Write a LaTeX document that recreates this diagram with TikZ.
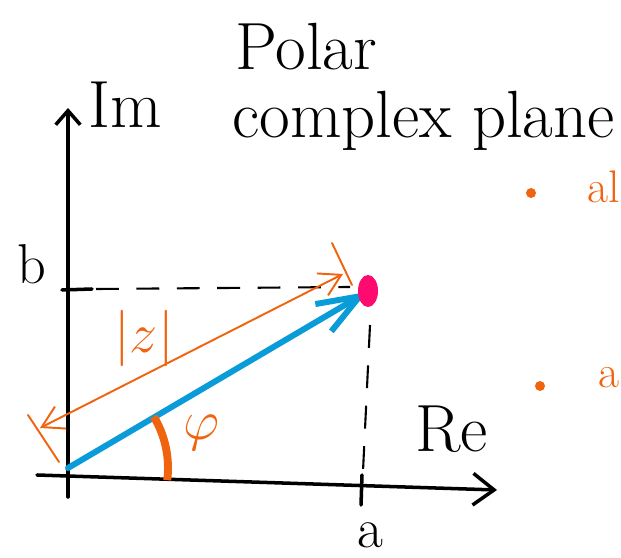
\RequirePackage{fix-cm}
\documentclass[tikz,border=0pt]{standalone}
\usepackage{fontspec}
\usepackage{amsmath}
\usetikzlibrary{arrows.meta,calc}
\usetikzlibrary{positioning}
\usepackage{xcolor}

\definecolor{laranja}{HTML}{F0640F}
\definecolor{azul}{HTML}{0A9CD8}
\definecolor{rosa}{HTML}{FF0A6E}

\tikzset{
  eixo/.style={line width=2pt,line cap=round},
  tracejado/.style={line width=1.2pt,dash pattern=on 13pt off 10pt},
  rotulo/.style={inner sep=0pt,font=\fontsize{38}{42}\selectfont},
  rotuloab/.style={inner sep=0pt,font=\fontsize{32}{36}\selectfont},
  barra/.style={laranja,line width=1.1pt,line cap=round},
}

\begin{document}
\begin{tikzpicture}[x=0.02cm,y=0.02cm]
\useasboundingbox (0,0) rectangle (621,557);
\clip (0,0) rectangle (621,557);

% origem e ponto z
\coordinate (O) at (68,89);
\coordinate (P) at (367,265);

% eixos
\coordinate (xini) at (37,82);
\coordinate (xfim) at (497,67);
\coordinate (yini) at (68,60);
\coordinate (yfim) at (68,449);
\draw[eixo,-{Straight Barb[length=12pt,width=18pt,line width=2pt]}] (xini) -- (xfim);
\draw[eixo,-{Straight Barb[length=8pt,width=14pt,line width=2pt]}] (yini) -- (yfim);

% marcas a e b
\coordinate (tb1) at (62,267);
\coordinate (tb2) at (92,268);
\draw[eixo] (tb1) -- (tb2);
\coordinate (ta1) at (362,82);
\coordinate (ta2) at (361,52);
\draw[eixo] (ta1) -- (ta2);

% linhas tracejadas
\coordinate (db) at (96,268);
\coordinate (dbf) at (350,270);
\draw[tracejado] (db) -- (dbf);
\coordinate (da) at (370,232);
\coordinate (daf) at (363,86);
\draw[tracejado] (da) -- (daf);

% vetor z
\draw[azul,line width=3.4pt,line cap=round,
      -{Straight Barb[length=24pt,width=18pt,line width=3.4pt]}] (O) -- (P);
\fill[rosa] (368,266) ellipse (10 and 16);

% modulo |z|
\coordinate (zs) at (40,129);
\coordinate (ze) at (343,283);
\draw[laranja,line width=1.1pt,
      {Straight Barb[length=12pt,width=14pt]}-{Straight Barb[length=12pt,width=14pt]}] (zs) -- (ze);
\coordinate (zsA) at (28,142);
\coordinate (zsB) at (59,95);
\coordinate (zeA) at (332,314);
\coordinate (zeB) at (352,272);
\draw[barra] (zsA) -- (zsB);
\draw[barra] (zeA) -- (zeB);
\node[laranja,rotuloab] (modz) at (144,219) {$|z|$};

% angulo phi
\draw[laranja,line width=4.5pt] (O) ++(-7:100) arc[start angle=-7,end angle=31,radius=100];
\node[laranja,rotuloab] (phi) at (202,124) {$\varphi$};

% rotulos
\node[rotulo,anchor=base west] (titulo1) at (235,487) {Polar};
\node[rotulo,anchor=base west] (titulo2) at (232,419) {complex plane};
\node[rotulo,anchor=base west] (im) at (88,429) {Im};
\node[rotulo,anchor=base west] (re) at (415,105) {Re};
\node[rotuloab] (b) at (32,293) {b};
\node[rotuloab] (a) at (370,22) {a};

% itens a direita
\fill[laranja] (531,364) circle (5);
\fill[laranja] (540,171) circle (5);
\node[laranja,inner sep=0pt,anchor=base east,font=\fontsize{26}{30}\selectfont] (item1) at (620,354) {al};
\node[laranja,inner sep=0pt,anchor=base east,font=\fontsize{26}{30}\selectfont] (item2) at (620,169) {a};

\end{tikzpicture}
\end{document}
